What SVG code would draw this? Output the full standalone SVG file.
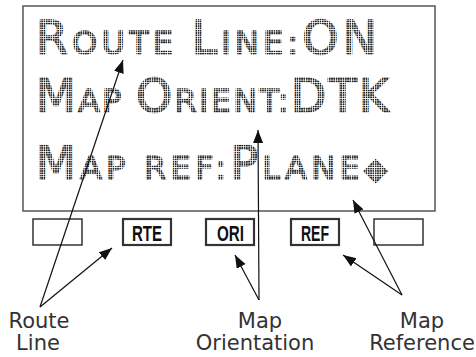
<svg xmlns="http://www.w3.org/2000/svg" width="476" height="357" viewBox="0 0 476 357">
<style>
.lcd{font-family:"DejaVu Sans",sans-serif;font-weight:normal;fill:url(#dots);stroke:url(#dots);stroke-width:1.6;stroke-linejoin:round}
.big{font-size:46px}
.sm{font-size:32px}
.btn{fill:#fff;stroke:#333}
.btxt{font-family:"Liberation Sans",Arial,sans-serif;font-weight:bold;font-size:22px;fill:#111;text-anchor:middle}
.lbl{font-family:"DejaVu Sans",sans-serif;font-size:21px;fill:#333;text-anchor:middle}
.arr{stroke:#111;stroke-width:1.2;fill:none;marker-end:url(#ah)}
</style>
<defs>
<pattern id="dots" width="2.3" height="2.3" patternUnits="userSpaceOnUse">
<rect width="1.6" height="1.6" fill="#222"/>
</pattern>
<marker id="ah" markerUnits="userSpaceOnUse" markerWidth="14" markerHeight="12" refX="13" refY="5" orient="auto">
<path d="M0,0 L13,5 L0,10 Z" fill="#111"/>
</marker>
</defs>
<rect width="476" height="357" fill="#fff"/>
<g id="screen">
<rect x="23" y="6" width="412" height="205" fill="#fff" stroke="#555" stroke-width="1.5"/>
<text class="lcd" x="36" y="54" textLength="341" lengthAdjust="spacing"><tspan class="big">R</tspan><tspan class="sm">OUTE </tspan><tspan class="big">L</tspan><tspan class="sm">INE:</tspan><tspan class="big">ON</tspan></text>
<text class="lcd" x="36" y="112" textLength="353" lengthAdjust="spacing"><tspan class="big">M</tspan><tspan class="sm">AP </tspan><tspan class="big">O</tspan><tspan class="sm">RIENT:</tspan><tspan class="big">DTK</tspan></text>
<text class="lcd" x="36" y="179" textLength="351" lengthAdjust="spacing"><tspan class="big">M</tspan><tspan class="sm">AP REF:</tspan><tspan class="big">P</tspan><tspan class="sm">LANE</tspan><tspan font-size="30">◆</tspan></text>
</g>
<g id="btn1"><rect class="btn" x="33" y="219" width="49" height="26" stroke-width="1.5"/></g>
<g id="btn-rte"><rect class="btn" x="123" y="219" width="48" height="26" stroke-width="2.2"/><text class="btxt" x="147" y="240.5" textLength="30" lengthAdjust="spacingAndGlyphs">RTE</text></g>
<g id="btn-ori"><rect class="btn" x="206" y="219" width="48" height="26" stroke-width="2.2"/><text class="btxt" x="230.5" y="240.5" textLength="27" lengthAdjust="spacingAndGlyphs">ORI</text></g>
<g id="btn-ref"><rect class="btn" x="291" y="219" width="48" height="26" stroke-width="2.2"/><text class="btxt" x="315" y="240.5" textLength="28" lengthAdjust="spacingAndGlyphs">REF</text></g>
<g id="btn5"><rect class="btn" x="374" y="219" width="49" height="26" stroke-width="1.5"/></g>
<g id="connectors">
<line class="arr" x1="40" y1="307" x2="123" y2="60"/>
<line class="arr" x1="40" y1="307" x2="112" y2="248"/>
<line class="arr" x1="259" y1="300" x2="258" y2="130"/>
<line class="arr" x1="259" y1="300" x2="235" y2="255"/>
<line class="arr" x1="402" y1="295" x2="353" y2="200"/>
<line class="arr" x1="402" y1="295" x2="343" y2="255"/>
</g>
<g id="label-route"><text class="lbl" x="39" y="328">Route</text><text class="lbl" x="38" y="350">Line</text></g>
<g id="label-orient"><text class="lbl" x="260" y="328">Map</text><text class="lbl" x="255" y="350">Orientation</text></g>
<g id="label-ref"><text class="lbl" x="422" y="328">Map</text><text class="lbl" x="422" y="350">Reference</text></g>
</svg>
